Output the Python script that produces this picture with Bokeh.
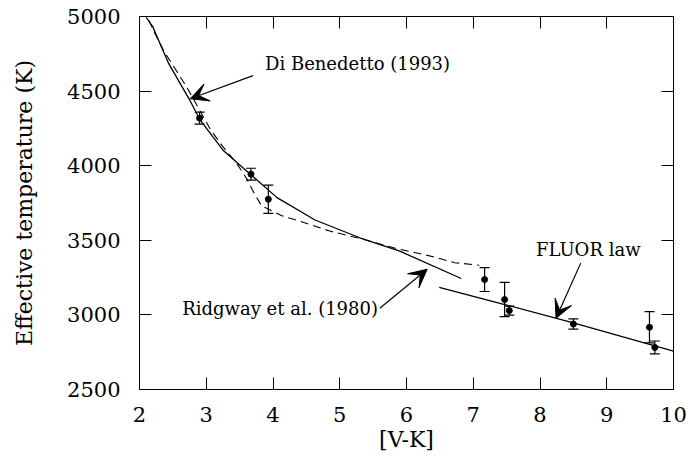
from bokeh.plotting import figure
from bokeh.models import (ColumnDataSource, LinearAxis, FixedTicker, Range1d,
                          Arrow, VeeHead, Whisker, TeeHead, Label, CustomLabelingPolicy)
from bokeh.embed import file_html
from bokeh.resources import INLINE

# ---- data ----
x_ticks = [2, 3, 4, 5, 6, 7, 8, 9, 10]
y_ticks = [2500, 3000, 3500, 4000, 4500, 5000]

# measured stars (V-K, Teff, error)
star_vk = [2.90, 3.67, 3.93, 7.17, 7.47, 7.54, 8.50, 9.64, 9.72]
star_teff = [4319, 3943, 3775, 3237, 3103, 3029, 2939, 2917, 2782]
star_err = [40, 40, 95, 80, 115, 30, 35, 105, 43]

# Ridgway et al. (1980) calibration (solid)
ridgway_vk = [2.10, 2.2, 2.44, 2.74, 2.91, 3.26, 3.66, 4.06, 4.63, 5.30, 5.90, 6.82]
ridgway_teff = [4995, 4930, 4682, 4450, 4305, 4100, 3943, 3786, 3636, 3517, 3427, 3244]

# Di Benedetto (1993) calibration (dashed)
dibenedetto_vk = [2.14, 2.21, 2.36, 2.71, 3.06, 3.24, 3.45, 3.61, 3.70, 3.83, 4.15,
                  4.40, 4.85, 5.34, 5.82, 6.40, 6.72, 7.09]
dibenedetto_teff = [4975, 4906, 4772, 4525, 4245, 4133, 4019, 3911, 3830, 3730, 3662,
                    3628, 3562, 3508, 3448, 3390, 3350, 3333]

# FLUOR law (solid)
fluor_vk = [6.49, 7.50, 8.50, 10.0]
fluor_teff = [3185, 3066, 2946, 2758]

FONT = "DejaVu Serif"

p = figure(width=690, height=454, output_backend="svg", toolbar_location=None,
           x_range=Range1d(2, 10), y_range=Range1d(2500, 5000),
           min_border_left=139, min_border_right=17, min_border_top=16,
           min_border_bottom=65)
p.grid.visible = False
p.outline_line_color = "black"
p.outline_line_width = 1
p.background_fill_color = "white"
p.border_fill_color = "white"

no_labels = CustomLabelingPolicy(code="return new Set()")

def style_axis(ax, labels=True):
    ax.major_tick_in = 12
    ax.major_tick_out = 0
    ax.minor_tick_line_color = None
    ax.axis_line_color = "black"
    ax.major_tick_line_color = "black"
    if labels:
        ax.major_label_text_font = FONT
        ax.major_label_text_font_size = "21px"
        ax.major_label_text_color = "black"
        ax.axis_label_text_font = FONT
        ax.axis_label_text_font_size = "22px"
        ax.axis_label_text_font_style = "normal"
        ax.axis_label_text_color = "black"
    else:
        ax.major_label_policy = no_labels
        ax.major_label_text_font_size = "1px"
        ax.major_label_standoff = 0

p.xaxis.ticker = FixedTicker(ticks=x_ticks)
p.yaxis.ticker = FixedTicker(ticks=y_ticks)
style_axis(p.xaxis[0])
style_axis(p.yaxis[0])
p.xaxis.axis_label = "[V-K]"
p.yaxis.axis_label = "Effective temperature (K)"
p.xaxis.major_label_standoff = 17
p.xaxis.axis_label_standoff = 2
p.yaxis.major_label_standoff = 19
p.yaxis.axis_label_standoff = 27

top_ax = LinearAxis(ticker=FixedTicker(ticks=x_ticks))
style_axis(top_ax, labels=False)
p.add_layout(top_ax, "above")
right_ax = LinearAxis(ticker=FixedTicker(ticks=y_ticks))
style_axis(right_ax, labels=False)
p.add_layout(right_ax, "right")

# curves
p.line(ridgway_vk, ridgway_teff, line_color="black", line_width=1.3)
p.line(dibenedetto_vk, dibenedetto_teff, line_color="black", line_width=1.1,
       line_dash="8 5")
p.line(fluor_vk, fluor_teff, line_color="black", line_width=1.3)

# stars with error bars
src = ColumnDataSource(dict(
    x=star_vk, y=star_teff,
    upper=[t + e for t, e in zip(star_teff, star_err)],
    lower=[t - e for t, e in zip(star_teff, star_err)],
))
p.add_layout(Whisker(base="x", upper="upper", lower="lower", source=src,
                     line_color="black", line_width=1.2,
                     upper_head=TeeHead(size=10, line_color="black", line_width=1.2),
                     lower_head=TeeHead(size=10, line_color="black", line_width=1.2)))
p.scatter("x", "y", source=src, size=6, color="black")

# annotations
def note(x, y, txt):
    p.add_layout(Label(x=x, y=y, text=txt, text_font=FONT, text_font_size="18px",
                       text_color="black", text_baseline="middle", text_align="left"))

def arrow(x0, y0, x1, y1):
    p.add_layout(Arrow(end=VeeHead(size=18, fill_color="black", line_color="black"),
                       x_start=x0, y_start=y0, x_end=x1, y_end=y1,
                       line_color="black", line_width=1.2))

note(3.88, 4684, "Di Benedetto (1993)")
arrow(3.70, 4604, 2.76, 4449)
note(2.64, 3040, "Ridgway et al. (1980)")
arrow(5.60, 3044, 6.31, 3306)
note(7.94, 3441, "FLUOR law")
arrow(8.61, 3347, 8.24, 2977)

open("out.html", "w").write(file_html(p, INLINE))
